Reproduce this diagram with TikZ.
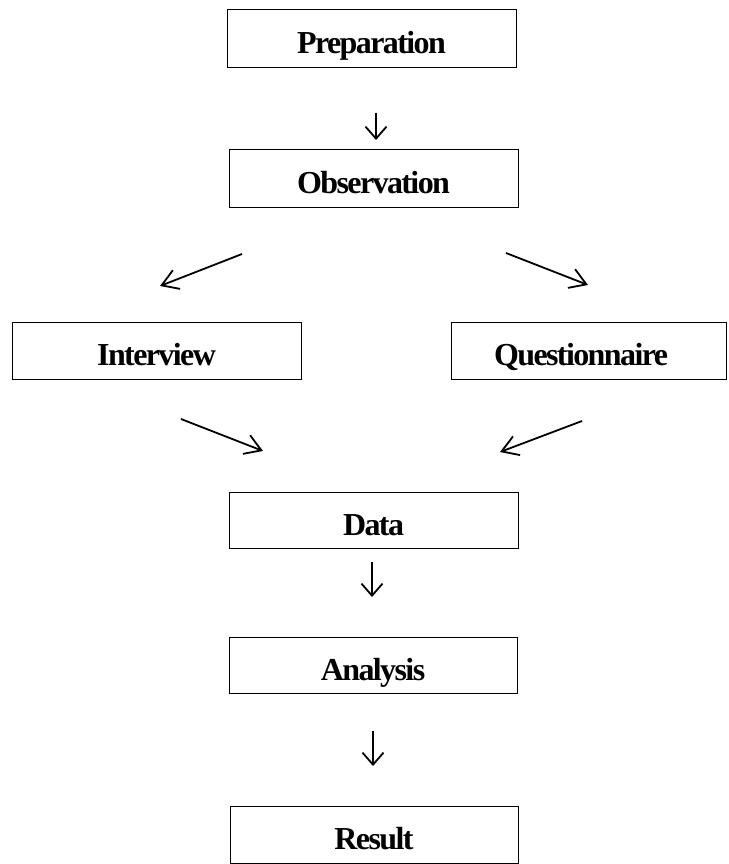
\documentclass[tikz,border=0pt]{standalone}
\usepackage{fontspec}
\setmainfont{Liberation Serif}
\newfontfamily\boxfont{Liberation Serif}[LetterSpace=-5]
\usetikzlibrary{arrows.meta}
\tikzset{
  stepbox/.style={draw=black, line width=1pt, rectangle, inner sep=0pt,
    text height=30pt, text depth=0pt,
    font=\boxfont\bfseries\fontsize{32}{36}\selectfont},
  flowarrow/.style={line width=1.8pt, -{Straight Barb[length=12pt,width=21pt]}},
  diagarrow/.style={line width=1.8pt, -{Straight Barb[length=16pt,width=20pt]}}
}
\begin{document}
\begin{tikzpicture}[x=1pt,y=-1pt]
\useasboundingbox (0,0) rectangle (728,864);
\node[stepbox, minimum width=289pt, minimum height=58pt] (prep) at (371.5,39) {Preparation};
\node[stepbox, minimum width=289pt, minimum height=58pt] (obs) at (373.5,178) {Observation};
\node[stepbox, minimum width=289pt, minimum height=57pt] (int) at (156.5,350.5) {Interview};
\node[stepbox, minimum width=275pt, minimum height=57pt] (que) at (589,350.5) {Questionnaire\hspace*{16pt}};
\node[stepbox, minimum width=289pt, minimum height=56pt] (data) at (373.5,520) {Data};
\node[stepbox, minimum width=288pt, minimum height=56pt] (ana) at (373,665) {Analysis};
\node[stepbox, minimum width=288pt, minimum height=57pt] (res) at (374,834.5) {Result};

\coordinate (a1s) at (376,113); \coordinate (a1e) at (376,140);
\coordinate (a2s) at (242,254); \coordinate (a2e) at (160,286);
\coordinate (a3s) at (506,253); \coordinate (a3e) at (588,285);
\coordinate (a4s) at (181,419); \coordinate (a4e) at (263,451);
\coordinate (a5s) at (582,421); \coordinate (a5e) at (500,452);
\coordinate (a6s) at (372,562); \coordinate (a6e) at (372,597);
\coordinate (a7s) at (373,731); \coordinate (a7e) at (373,766);

\draw[flowarrow] (a1s) -- (a1e);
\draw[diagarrow] (a2s) -- (a2e);
\draw[diagarrow] (a3s) -- (a3e);
\draw[diagarrow] (a4s) -- (a4e);
\draw[diagarrow] (a5s) -- (a5e);
\draw[flowarrow] (a6s) -- (a6e);
\draw[flowarrow] (a7s) -- (a7e);
\end{tikzpicture}
\end{document}
